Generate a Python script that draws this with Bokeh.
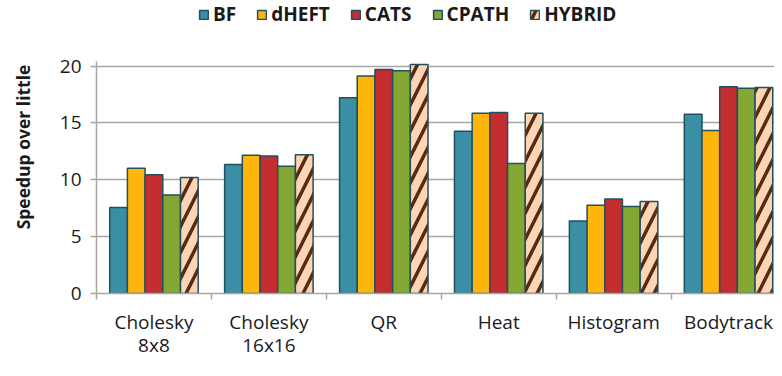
from bokeh.plotting import figure
from bokeh.models import FixedTicker, ColumnDataSource, Range1d
from bokeh.embed import file_html
from bokeh.resources import INLINE
from bokeh.transform import dodge

categories = ["Cholesky\n8x8", "Cholesky\n16x16", "QR", "Heat", "Histogram", "Bodytrack"]
series = ["BF", "dHEFT", "CATS", "CPATH", "HYBRID"]
bf = [7.55, 11.35, 17.2, 14.27, 6.37, 15.77]
dheft = [11.01, 12.15, 19.12, 15.85, 7.75, 14.33]
cats = [10.43, 12.09, 19.70, 15.91, 8.30, 18.18]
cpath = [8.66, 11.18, 19.58, 11.43, 7.64, 18.04]
hybrid = [10.20, 12.20, 20.14, 15.85, 8.08, 18.12]
y_ticks = [0, 5, 10, 15, 20]

colors = ["#3A8FA5", "#FFB60C", "#C42D2F", "#84A733", "#FBD6B4"]
values = [bf, dheft, cats, cpath, hybrid]

FONT = "Open Sans"
GRID = "#A6A6A6"
OUTLINE = "#22505E"

centers = [i + 0.5 for i in range(len(categories))]
data = {"x": centers}
for name, vals in zip(series, values):
    data[name] = vals
src = ColumnDataSource(data)

p = figure(width=774, height=360, output_backend="svg", toolbar_location=None,
           x_range=Range1d(0, 5.9), y_range=Range1d(0, 25.76),
           min_border_left=96, min_border_right=0, min_border_top=0, min_border_bottom=66,
           title=None)
p.outline_line_color = None
p.background_fill_color = "white"

bw = 0.154
for k, (name, col) in enumerate(zip(series, colors)):
    kw = {}
    if name == "HYBRID":
        kw = dict(hatch_pattern="/", hatch_color="#5A2814", hatch_scale=26, hatch_weight=3.5)
    p.vbar(x=dodge("x", (k - 2) * bw, range=None), top=name, width=bw, bottom=0, source=src,
           fill_color=col, line_color=OUTLINE, line_width=1.5, legend_label=name, **kw)

# y axis
p.yaxis.ticker = FixedTicker(ticks=y_ticks)
p.yaxis.bounds = (0, 20.4)
p.yaxis.axis_line_color = GRID
p.yaxis.axis_line_width = 1.5
p.yaxis.major_tick_line_color = GRID
p.yaxis.major_tick_line_width = 1.5
p.yaxis.major_tick_out = 6
p.yaxis.major_tick_in = 0
p.yaxis.minor_tick_line_color = None
p.yaxis.major_label_standoff = 9
p.yaxis.major_label_text_font = FONT
p.yaxis.major_label_text_font_size = "19px"
p.yaxis.major_label_text_color = "#1a1a1a"
p.yaxis.axis_label = "Speedup over little"
p.yaxis.axis_label_text_font = FONT
p.yaxis.axis_label_text_font_style = "bold"
p.yaxis.axis_label_text_font_size = "17.5px"
p.yaxis.axis_label_text_color = "#1a1a1a"
p.yaxis.axis_label_standoff = 22

p.ygrid.ticker = FixedTicker(ticks=y_ticks)
p.ygrid.grid_line_color = GRID
p.ygrid.grid_line_width = 1.5
p.xgrid.grid_line_color = None

# x axis
p.xaxis.ticker = FixedTicker(ticks=centers, minor_ticks=list(range(len(categories) + 1)))
p.xaxis.major_label_overrides = {c: lab for c, lab in zip(centers, categories)}
p.xaxis.axis_line_color = GRID
p.xaxis.axis_line_width = 1.5
p.xaxis.major_tick_line_color = None
p.xaxis.minor_tick_line_color = GRID
p.xaxis.minor_tick_line_width = 1.5
p.xaxis.minor_tick_out = 6
p.xaxis.minor_tick_in = 0
p.xaxis.major_tick_out = 0
p.xaxis.major_tick_in = 0
p.xaxis.major_label_standoff = 9
p.xaxis.major_label_text_font = FONT
p.xaxis.major_label_text_font_size = "19px"
p.xaxis.major_label_text_line_height = 0.9
p.xaxis.major_label_text_color = "#1a1a1a"

# legend
lg = p.legend[0]
lg.orientation = "horizontal"
lg.location = (102, 266)
lg.margin = 0
lg.padding = 0
lg.spacing = 20
lg.glyph_width = 11
lg.glyph_height = 11
lg.label_standoff = 4
lg.border_line_color = None
lg.background_fill_alpha = 0
lg.label_text_font = FONT
lg.label_text_font_style = "bold"
lg.label_text_font_size = "19px"
lg.label_text_color = "#1a1a1a"

open("out.html", "w").write(file_html(p, INLINE))
